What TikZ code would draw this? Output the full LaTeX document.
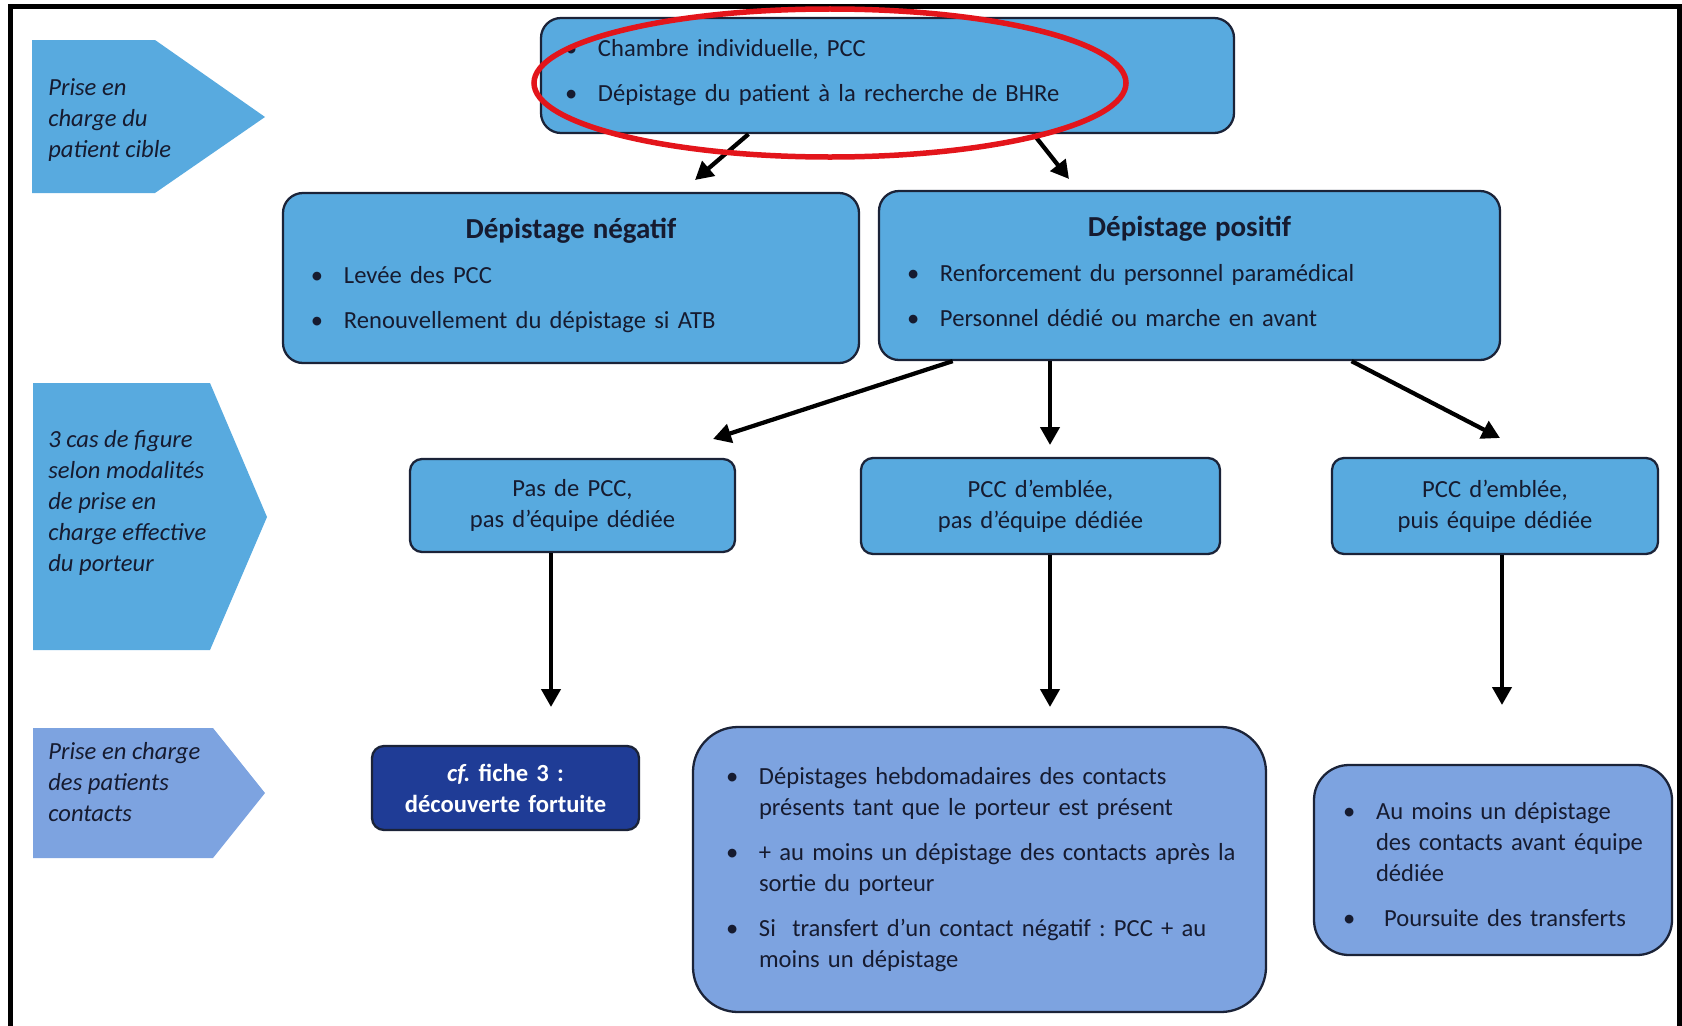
\documentclass[tikz,border=0pt]{standalone}
\usepackage{fontspec}
\setmainfont{Carlito}
\usepackage{tikz}
\usetikzlibrary{calc,positioning,arrows.meta}
\definecolor{bhrblue}{HTML}{58AADF}
\definecolor{bhrlav}{HTML}{7DA3E0}
\definecolor{bhrnavy}{HTML}{1F3C96}
\definecolor{bhrline}{HTML}{1B2338}
\definecolor{bhrtext}{HTML}{161B30}
\definecolor{bhrred}{HTML}{E3151B}
\newcommand{\bitem}[2][0mm]{\hangindent=\dimexpr6.6mm+#1\relax\hangafter=1\noindent\hspace*{#1}\makebox[6.6mm][l]{\textbullet}#2\par}

\begin{document}
\frenchspacing
\begin{tikzpicture}[x=0.2mm, y=-0.2mm,
  every node/.style={font=\fontsize{14}{17.6}\selectfont, text=bhrtext},
  box/.style={draw=bhrline, line width=1.3pt, fill=bhrblue, rounded corners=4mm, align=left, inner ysep=0pt,
    execute at begin node={\setlength{\parskip}{2.8mm}}},
  casebox/.style={box, rounded corners=2.4mm, align=center, inner xsep=0pt},
  side/.style={font=\fontsize{14}{17.6}\selectfont\itshape, align=left, inner sep=0pt, anchor=west},
  arr/.style={line width=0.85mm, -{Triangle[length=3.6mm, width=3.8mm]}}]
  \useasboundingbox (0,0) rectangle (1682,1026);

  % Frame
  \draw[line width=0.9mm] (10.5,1040) -- (10.5,6.5) -- (1679.5,6.5) -- (1679.5,1040);

  % Side banners
  \fill[bhrblue] (32,40) -- (155,40) -- (265,117) -- (155,193) -- (32,193) -- cycle;
  \fill[bhrblue] (33,383) -- (210,383) -- (267,517) -- (210,650) -- (33,650) -- cycle;
  \fill[bhrlav] (33,728) -- (213,728) -- (265,793) -- (213,858) -- (33,858) -- cycle;
  \node[side] (cible) at (48,120) {Prise en\\charge du\\patient cible};
  \node[side] (porteur) at (48,503) {3 cas de figure\\selon modalités\\de prise en\\charge effective\\du porteur};
  \node[side] (contacts) at (48,782) {Prise en charge\\des patients\\contacts};

  % Boxes
  \node[box, text width=129mm, inner xsep=4.8mm, minimum height=23mm] (top) at (887.5,75.5)
    {\bitem{Chambre individuelle, PCC}\bitem{Dépistage du patient à la recherche de BHRe}\vspace{1.3mm}};
  \node[box, text width=104mm, inner xsep=5.6mm, minimum height=34mm] (neg) at (571,278)
    {{\centering\fontsize{16.5}{20}\selectfont\bfseries Dépistage négatif\par}%
     \bitem{Levée des PCC}\bitem{Renouvellement du dépistage si ATB}\vspace{1mm}};
  \node[box, text width=113mm, inner xsep=5.6mm, minimum height=33.8mm] (pos) at (1189.5,275.5)
    {{\centering\fontsize{16.5}{20}\selectfont\bfseries Dépistage positif\par}%
     \bitem{Renforcement du personnel paramédical}\bitem{Personnel dédié ou marche en avant}\vspace{1.7mm}};

  \node[casebox, text width=65mm, minimum height=18.6mm] (caseA) at (572.5,505.5) {Pas de PCC,\\pas d’équipe dédiée};
  \node[casebox, text width=71.8mm, minimum height=19.2mm] (caseB) at (1040.5,506) {PCC d’emblée,\\pas d’équipe dédiée};
  \node[casebox, text width=65.2mm, minimum height=19.2mm] (caseC) at (1495,506) {PCC d’emblée,\\puis équipe dédiée};

  \node[casebox, fill=bhrnavy, text=white, font=\fontsize{14}{17.6}\selectfont\bfseries,
    text width=53.4mm, minimum height=16.8mm] (fiche) at (505.5,788) {\textit{cf.}\ fiche 3 :\\découverte fortuite};
  \node[box, fill=bhrlav, rounded corners=9mm, text width=106mm, inner xsep=4.3mm, minimum height=57mm] (hebdo) at (979.5,869.5)
    {\bitem[2.3mm]{Dépistages hebdomadaires des contacts\newline présents tant que le porteur est présent}%
     \bitem[2.3mm]{+ au moins un dépistage des contacts après la\newline sortie du porteur}%
     \bitem[2.3mm]{Si\ \ transfert d’un contact négatif : PCC + au\newline moins un dépistage}};
  \node[box, fill=bhrlav, rounded corners=7mm, text width=63mm, inner xsep=4.3mm, minimum height=38mm] (avant) at (1493,860)
    {\bitem[1.5mm]{Au moins un dépistage\newline des contacts avant équipe\newline dédiée}\bitem[1.5mm]{\ Poursuite des transferts}\vspace{-1.7mm}};

  % Arrows
  \coordinate (tNeg) at (695,180);
  \coordinate (tPos) at (1069,179);
  \coordinate (tA) at (713,439);
  \coordinate (tB) at (1050,445);
  \coordinate (tC) at (1500,438);
  \coordinate (tFiche) at (551,707);
  \coordinate (tHebdo) at (1050,707);
  \coordinate (tAvant) at (1502,705);
  \draw[arr] ($(top.south west)!.3!(top.south east)$) -- (tNeg);
  \draw[arr] ($(top.south west)!.71!(top.south east)$) -- (tPos);
  \draw[arr] ($(pos.south west)!.12!(pos.south east)$) -- (tA);
  \draw[arr] (pos.south -| tB) -- (tB);
  \draw[arr] ($(pos.south west)!.76!(pos.south east)$) -- (tC);
  \draw[arr] (caseA.south -| tFiche) -- (tFiche);
  \draw[arr] (caseB.south -| tHebdo) -- (tHebdo);
  \draw[arr] (caseC.south -| tAvant) -- (tAvant);

  % Highlight
  \draw[bhrred, line width=1.1mm] (830,83) ellipse [x radius=59.2mm, y radius=14.8mm];
\end{tikzpicture}
\end{document}
